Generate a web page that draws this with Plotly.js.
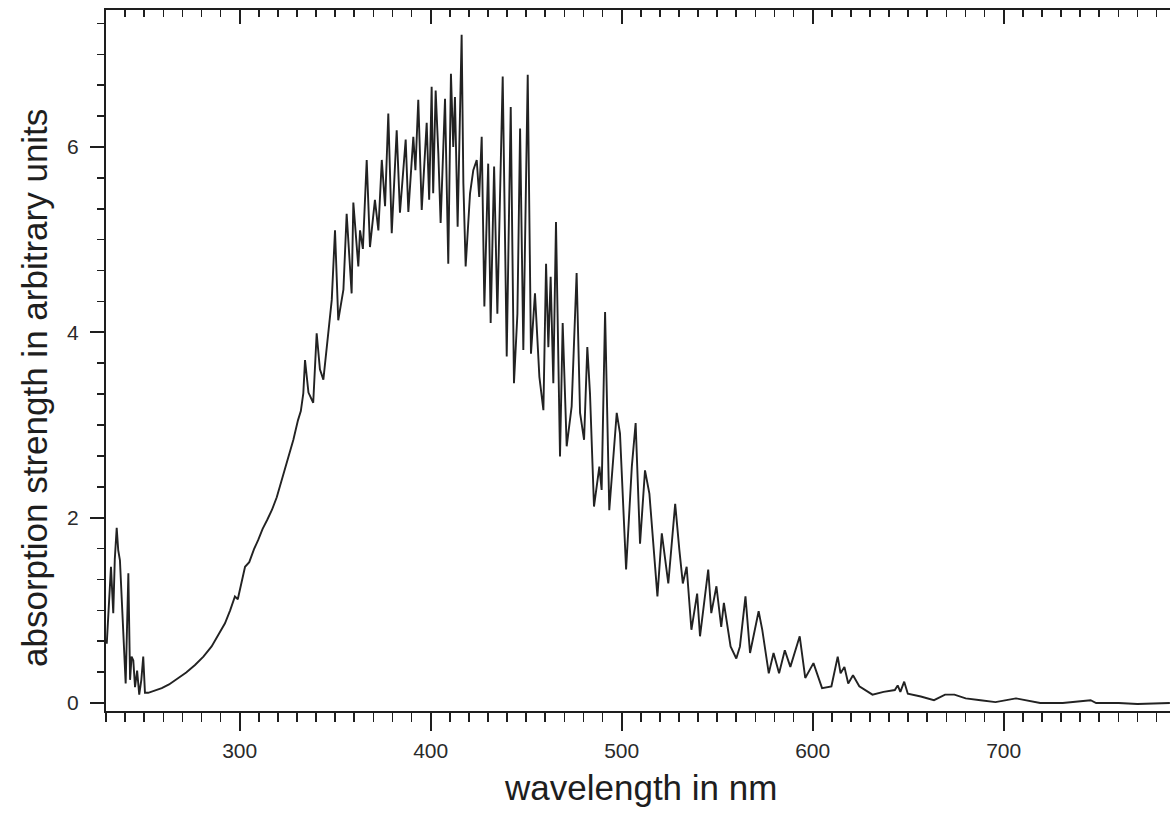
<!DOCTYPE html>
<html>
<head>
<meta charset="utf-8">
<script src="https://cdn.plot.ly/plotly-3.0.1.min.js"></script>
<style>
html,body{margin:0;padding:0;background:#fff;overflow:hidden;}
#chart{width:1170px;height:826px;}
</style>
</head>
<body>
<div id="chart"></div>
<script>
// wavelength in nm
const wavelength = [
230.4,231.5,232.6,233.8,234.6,235.6,236.4,237.3,238.2,239.1,240.3,241.7,242.6,243.4,244.3,245.2,246.3,247.4,248.5,249.5,250.4,252.1,
255.5,259.2,263.0,267.9,272.0,276.6,281.0,285.3,288.5,292.3,295.0,297.5,299.0,300.5,302.8,305.0,307.5,309.7,312.0,314.5,316.8,
319.4,322.0,325.0,328.1,330.5,332.0,333.3,334.2,336.0,338.5,340.3,342.0,343.8,346.0,348.2,349.9,351.6,354.3,356.0,358.6,359.5,
362.1,363.0,364.5,366.5,368.2,370.8,372.6,374.4,376.1,377.8,379.6,382.2,383.9,386.9,388.3,390.9,392.0,393.5,395.3,397.9,399.2,
400.5,401.3,402.6,404.0,405.2,407.5,409.2,410.6,411.8,412.7,414.1,416.2,417.1,418.3,420.6,422.3,424.1,425.4,426.7,428.1,430.1,
431.4,433.2,434.9,436.3,437.7,439.8,441.9,443.6,445.4,446.8,448.5,450.8,452.5,454.6,456.9,459.0,460.4,461.6,462.8,464.2,465.6,
467.7,469.1,471.2,473.8,476.4,478.2,480.3,482.0,483.4,485.5,488.3,489.5,491.3,493.5,497.4,499.1,502.3,505.3,507.3,509.6,512.2,
514.5,518.7,521.0,524.4,528.0,530.2,532.0,534.0,536.5,539.5,541.0,545.3,546.9,549.6,552.1,553.5,557.0,560.0,561.9,564.8,567.2,
571.7,573.6,577.0,579.5,582.4,585.4,588.3,593.2,596.1,600.4,604.9,609.8,613.1,614.6,616.6,618.6,621.1,624.4,631.3,637.1,643.0,
644.5,645.9,647.9,649.8,656.6,663.5,669.3,674.2,680.1,687.9,695.7,706.4,711.3,719.1,730.9,745.5,748.4,760.2,770.0,781.6,787.0
];
// absorption strength (arbitrary units)
const absorption = [
0.64,1.05,1.47,0.97,1.55,1.89,1.65,1.54,1.11,0.68,0.21,1.40,0.25,0.50,0.46,0.17,0.35,0.09,0.25,0.50,0.11,0.11,
0.13,0.16,0.20,0.27,0.33,0.41,0.50,0.61,0.72,0.86,1.00,1.15,1.12,1.27,1.47,1.52,1.66,1.76,1.88,1.98,2.08,
2.22,2.40,2.62,2.84,3.05,3.15,3.34,3.70,3.35,3.24,3.99,3.60,3.49,3.95,4.35,5.10,4.13,4.46,5.28,4.42,5.40,
4.71,5.10,4.90,5.86,4.92,5.43,5.10,5.86,5.36,6.36,5.07,6.18,5.29,6.08,5.30,6.11,5.75,6.51,5.32,6.26,5.43,
6.65,5.50,6.61,5.93,5.18,6.52,4.74,6.79,6.00,6.54,5.14,7.21,5.61,4.71,5.50,5.75,5.86,5.46,6.11,4.28,5.82,
4.10,5.79,4.20,5.50,6.76,3.74,6.43,3.45,4.20,6.20,3.81,6.78,3.77,4.42,3.52,3.16,4.74,3.84,4.60,3.45,5.19,
2.66,4.10,2.77,3.20,4.64,3.13,2.84,3.84,3.34,2.12,2.55,2.30,4.22,2.08,3.13,2.91,1.44,2.55,3.02,1.72,2.51,
2.26,1.15,1.83,1.29,2.15,1.65,1.29,1.47,0.79,1.18,0.72,1.44,0.97,1.26,0.82,1.08,0.61,0.48,0.61,1.15,0.54,
0.99,0.79,0.32,0.54,0.32,0.57,0.39,0.72,0.27,0.43,0.16,0.18,0.50,0.32,0.39,0.21,0.30,0.18,0.09,0.12,0.14,
0.19,0.12,0.23,0.10,0.07,0.03,0.09,0.09,0.05,0.03,0.01,0.05,0.03,0.00,0.00,0.03,0.00,0.00,-0.01,0.00,0.00
];
const xTickVals = [300, 400, 500, 600, 700];
const xTickText = ["300", "400", "500", "600", "700"];
const yTickVals = [0, 2, 4, 6];
const yTickText = ["0", "2", "4", "6"];
const xTitle = "wavelength in nm";
const yTitle = "absorption strength in arbitrary units";

const axisColor = "#1e1e1e";
const tickFont = {family: "Liberation Sans, Arial, sans-serif", size: 21, color: "#2a2a2a"};
const titleFont = {family: "Liberation Sans, Arial, sans-serif", size: 35, color: "#1e1e1e"};

const trace = {
  x: wavelength, y: absorption, type: "scatter", mode: "lines",
  line: {color: "#222222", width: 1.9}, hoverinfo: "skip", showlegend: false
};
const dummyTop = {x: [wavelength[0]], y: [absorption[0]], xaxis: "x2", yaxis: "y",
  mode: "markers", marker: {opacity: 0}, hoverinfo: "skip", showlegend: false};

const layout = {
  width: 1170, height: 826,
  margin: {l: 106, r: 0, t: 10, b: 115},
  paper_bgcolor: "#fff", plot_bgcolor: "#fff",
  showlegend: false,
  xaxis: {
    range: [230, 787.07], tickmode: "array", tickvals: xTickVals, ticktext: xTickText,
    ticks: "outside", ticklen: 18, tickwidth: 2, tickcolor: axisColor,
    showline: true, linecolor: axisColor, linewidth: 2,
    showgrid: false, zeroline: false, tickfont: tickFont, ticklabelstandoff: 2,
    minor: {tick0: 230, dtick: 10, ticks: "outside", ticklen: 9, tickwidth: 1.6, tickcolor: axisColor, showgrid: false}
  },
  xaxis2: {
    overlaying: "x", side: "top", matches: "x", range: [230, 787.07],
    tickmode: "array", tickvals: xTickVals, showticklabels: false,
    ticks: "inside", ticklen: 14, tickwidth: 2, tickcolor: axisColor,
    showline: true, linecolor: axisColor, linewidth: 2,
    showgrid: false, zeroline: false,
    minor: {tick0: 230, dtick: 10, ticks: "inside", ticklen: 7, tickwidth: 1.6, tickcolor: axisColor, showgrid: false}
  },
  yaxis: {
    range: [-0.0863, 7.478], tickmode: "array", tickvals: yTickVals, ticktext: yTickText,
    ticks: "outside", ticklen: 14, tickwidth: 2, tickcolor: axisColor,
    showline: true, linecolor: axisColor, linewidth: 2,
    showgrid: false, zeroline: false, tickfont: tickFont, ticklabelstandoff: 7,
    minor: {tick0: 0, dtick: 1/3, ticks: "outside", ticklen: 7, tickwidth: 1.6, tickcolor: axisColor, showgrid: false}
  },
  annotations: [
    {text: xTitle, xref: "paper", yref: "paper", x: (640-106)/1064, y: -(787-711)/701,
     xanchor: "center", yanchor: "middle", showarrow: false, font: titleFont},
    {text: yTitle, xref: "paper", yref: "paper", x: -(106-35)/1064, y: (711-388)/701,
     xanchor: "center", yanchor: "middle", textangle: -90, showarrow: false, font: titleFont}
  ]
};

Plotly.newPlot("chart", [trace, dummyTop], layout, {staticPlot: true, displayModeBar: false});
</script>
</body>
</html>
